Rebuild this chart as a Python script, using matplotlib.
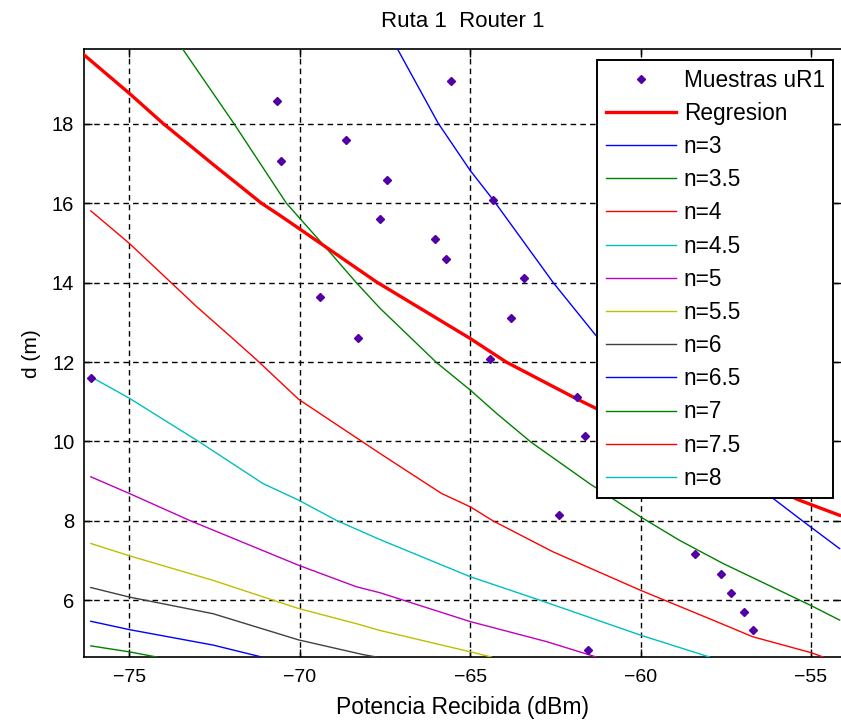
import matplotlib
matplotlib.use("Agg")
import matplotlib.pyplot as plt

plt.rcParams['font.family'] = ['Liberation Sans', 'DejaVu Sans']

# ---- data ----
samples_x = [-76.13, -70.67, -70.56, -68.65, -67.45, -67.65, -69.41, -68.30, -65.57, -66.04,
             -65.72, -64.32, -63.43, -63.79, -64.43, -61.88, -61.62, -62.38, -58.39, -57.63,
             -57.36, -56.98, -56.69, -61.53]
samples_y = [11.60, 18.58, 17.07, 17.60, 16.59, 15.60, 13.64, 12.60, 19.08, 15.10,
             14.60, 16.08, 14.12, 13.12, 12.08, 11.12, 10.14, 8.14, 7.16, 6.66,
             6.18, 5.70, 5.25, 4.74]

reg_x = [-76.33, -75.0, -74.02, -72.5, -71.12, -70.59, -70.03, -67.75, -65.01,
         -63.94, -61.89, -61.30, -55.34, -54.16]
reg_y = [19.74, 18.77, 18.02, 16.95, 16.0, 15.70, 15.37, 14.02, 12.60,
         12.0, 11.08, 10.83, 8.52, 8.14]

n30_x = [-67.16, -65.94, -65.01, -64.31, -62.57, -61.32, -56.12, -55.25, -54.16]
n30_y = [19.93, 18.02, 16.84, 16.07, 14.01, 12.68, 8.57, 8.0, 7.30]

n35_x = [-73.47, -71.94, -70.39, -69.22, -68.34, -67.65, -65.99, -64.99, -64.23, -63.21,
         -61.50, -60.0, -58.86, -57.59, -55.01, -54.16]
n35_y = [19.93, 18.02, 16.0, 14.87, 14.0, 13.36, 11.99, 11.29, 10.71, 9.98,
         8.94, 8.10, 7.51, 6.93, 5.87, 5.50]

n40_x = [-76.13, -75.0, -73.81, -73.03, -72.0, -71.27, -70.03, -68.14, -67.65, -65.84,
         -64.99, -64.33, -62.57, -60.0, -57.88, -56.71, -55.0, -54.55]
n40_y = [15.81, 14.99, 14.03, 13.40, 12.62, 12.06, 11.06, 9.98, 9.70, 8.69,
         8.35, 8.0, 7.22, 6.25, 5.50, 5.08, 4.68, 4.54]

n45_x = [-76.13, -75.0, -72.93, -71.08, -70.03, -68.92, -67.65, -64.99, -62.95, -60.0, -57.98]
n45_y = [11.63, 11.09, 9.98, 8.94, 8.52, 8.01, 7.53, 6.59, 6.0, 5.12, 4.57]

n50_x = [-76.13, -75.0, -73.23, -70.03, -68.34, -67.65, -64.99, -62.77, -61.30]
n50_y = [9.11, 8.69, 8.01, 6.88, 6.34, 6.19, 5.46, 4.96, 4.57]

n55_x = [-76.13, -75.0, -72.54, -70.03, -68.34, -67.65, -64.99, -64.38]
n55_y = [7.43, 7.12, 6.50, 5.79, 5.41, 5.24, 4.70, 4.57]

n60_x = [-76.13, -75.0, -72.54, -70.03, -68.14, -67.75]
n60_y = [6.32, 6.08, 5.66, 5.00, 4.63, 4.57]

n65_x = [-76.13, -75.0, -72.54, -71.12]
n65_y = [5.47, 5.26, 4.87, 4.57]

n70_x = [-76.13, -75.0, -74.20]
n70_y = [4.85, 4.70, 4.57]

n75_x = [-76.13, -75.0]
n75_y = [4.45, 4.30]

n80_x = [-76.13, -75.0]
n80_y = [4.20, 4.08]

curves = [
    ("n=3", n30_x, n30_y, (0, 0, 1)),
    ("n=3.5", n35_x, n35_y, (0, 0.5, 0)),
    ("n=4", n40_x, n40_y, (1, 0, 0)),
    ("n=4.5", n45_x, n45_y, (0, 0.75, 0.75)),
    ("n=5", n50_x, n50_y, (0.75, 0, 0.75)),
    ("n=5.5", n55_x, n55_y, (0.75, 0.75, 0)),
    ("n=6", n60_x, n60_y, (0.25, 0.25, 0.25)),
    ("n=6.5", n65_x, n65_y, (0, 0, 1)),
    ("n=7", n70_x, n70_y, (0, 0.5, 0)),
    ("n=7.5", n75_x, n75_y, (1, 0, 0)),
    ("n=8", n80_x, n80_y, (0, 0.75, 0.75)),
]

x_ticks = [-75, -70, -65, -60, -55]
y_ticks = [6, 8, 10, 12, 14, 16, 18]

# ---- figure ----
fig = plt.figure(figsize=(8.41, 7.22), dpi=100)
ax = fig.add_axes([84 / 841, 1 - 657 / 722, 1 - 84 / 841, (657 - 49.3) / 722])

ax.plot(samples_x, samples_y, linestyle='none', marker='D', markersize=4.5,
        color='#5200a6', label='Muestras uR1', zorder=5)
ax.plot(reg_x, reg_y, color=(1, 0, 0), linewidth=2.4, label='Regresion', zorder=4)
for lab, xs, ys, col in curves:
    ax.plot(xs, ys, color=col, linewidth=1.0, label=lab, zorder=3)

ax.set_xlim(-76.33, -54.12)
ax.set_ylim(4.57, 19.88)
ax.set_xticks(x_ticks)
ax.set_yticks(y_ticks)
ax.set_axisbelow(True)
ax.grid(True, color='black', linestyle=(0, (4, 3)), linewidth=1.0)
ax.tick_params(direction='in', length=6, width=1.0, labelsize=14.5, top=True, right=True,
               pad=7, colors='black')
ax.tick_params(axis='x', labelsize=14, pad=9)
for s in ax.spines.values():
    s.set_linewidth(1.2)
ax.spines['right'].set_visible(False)

ax.set_title('Ruta 1  Router 1', fontsize=16, pad=16)
ax.set_xlabel('Potencia Recibida (dBm)', fontsize=16.5, labelpad=7)
ax.set_ylabel('d (m)', fontsize=15, labelpad=8)

leg = ax.legend(loc='upper left', bbox_to_anchor=((597 - 84) / (841 - 84), (657 - 60) / (657 - 49.3)),
                borderaxespad=0, fontsize=16.3, frameon=True, fancybox=False, framealpha=1,
                edgecolor='black', handlelength=3.1, handletextpad=0.35, labelspacing=0.45,
                borderpad=0.38, markerscale=1.0, numpoints=1)
leg.get_frame().set_linewidth(1.4)

fig.savefig('out.png', dpi=100)
